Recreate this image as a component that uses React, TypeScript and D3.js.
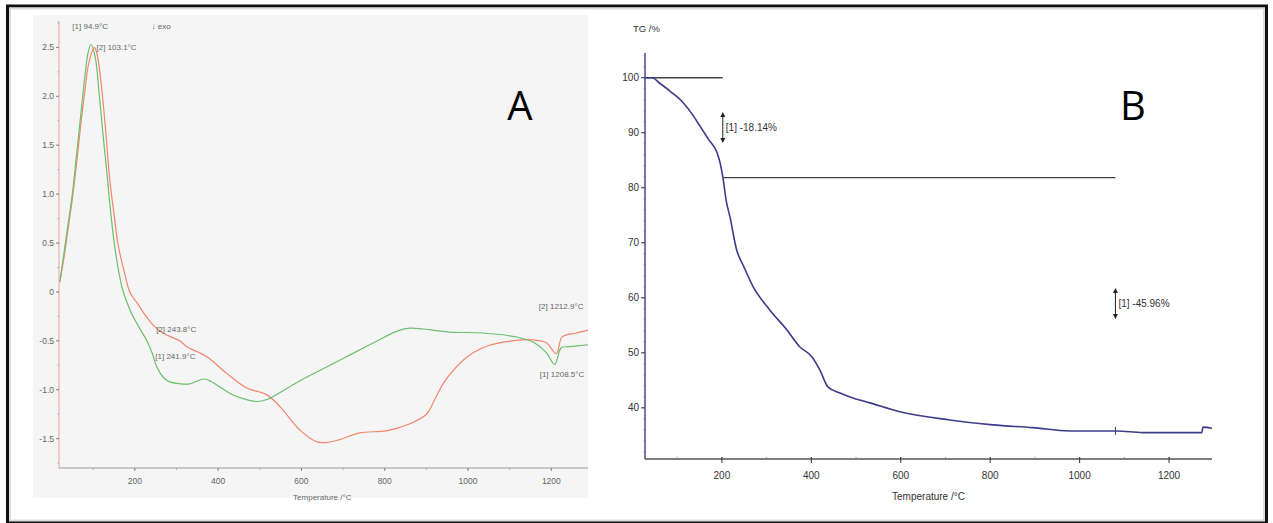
import React from "react";
import * as d3 from "d3";

// ---------- Panel A (DSC) data ----------
const greenT = [20, 30, 40, 50, 60, 70, 80, 88, 95, 105, 115, 125, 133, 140, 150, 160, 171, 190, 210, 229, 242, 253, 270, 284, 310, 332, 350, 368, 385, 404, 430, 452, 493, 517, 560, 600, 650, 700, 750, 800, 830, 860, 955, 1035, 1116, 1155, 1188, 1208, 1224, 1243, 1288];
const greenV = [0.1, 0.4, 0.7, 1.0, 1.4, 1.8, 2.2, 2.45, 2.53, 2.4, 2.0, 1.55, 1.22, 0.9, 0.52, 0.24, 0.02, -0.2, -0.36, -0.5, -0.63, -0.77, -0.88, -0.92, -0.94, -0.94, -0.91, -0.89, -0.92, -0.97, -1.04, -1.08, -1.12, -1.1, -1.0, -0.9, -0.79, -0.68, -0.57, -0.46, -0.4, -0.37, -0.41, -0.42, -0.46, -0.51, -0.62, -0.74, -0.57, -0.56, -0.54];
const orangeT = [20, 30, 40, 50, 60, 70, 80, 90, 103, 110, 120, 130, 140, 150, 160, 175, 188, 210, 229, 244, 267, 308, 325, 372, 420, 468, 516, 548, 596, 636, 660, 692, 740, 804, 859, 900, 920, 940, 965, 996, 1035, 1075, 1155, 1188, 1212, 1226, 1260, 1288];
const orangeV = [0.1, 0.35, 0.65, 0.95, 1.3, 1.7, 2.05, 2.35, 2.5, 2.42, 2.1, 1.65, 1.14, 0.8, 0.48, 0.2, 0.0, -0.14, -0.26, -0.34, -0.42, -0.5, -0.56, -0.66, -0.83, -0.98, -1.05, -1.17, -1.41, -1.53, -1.54, -1.51, -1.44, -1.42, -1.35, -1.25, -1.1, -0.94, -0.8, -0.67, -0.57, -0.52, -0.49, -0.52, -0.63, -0.46, -0.42, -0.39];
const aYTicks = [2.5, 2.0, 1.5, 1.0, 0.5, 0, -0.5, -1.0, -1.5];
const aYLabels = ["2.5", "2.0", "1.5", "1.0", "0.5", "0", "-0.5", "-1.0", "-1.5"];
const aXTicks = [200, 400, 600, 800, 1000, 1200];

// ---------- Panel B (TG) data ----------
const tgT = [30, 44, 61, 85, 113, 135, 151, 170, 189, 196, 202, 210, 218, 233, 247, 270, 307, 345, 374, 401, 419, 437, 464, 493, 531, 598, 709, 806, 895, 978, 1083, 1141, 1273, 1276, 1296];
const tgV = [100, 100, 99.0, 97.5, 95.5, 93.2, 91.2, 88.8, 86.4, 84.5, 82.0, 77.5, 74.7, 68.7, 66.0, 62.0, 57.8, 54.2, 51.1, 49.3, 46.9, 43.8, 42.7, 41.8, 40.9, 39.3, 37.8, 36.9, 36.4, 35.8, 35.8, 35.5, 35.5, 36.5, 36.3];
const bYTicks = [100, 90, 80, 70, 60, 50, 40];
const bXTicks = [200, 400, 600, 800, 1000, 1200];

export default function App() {
  const xA = d3.scaleLinear().domain([18, 1288]).range([59, 588]);
  const yA = d3.scaleLinear().domain([-1.8, 2.77]).range([468, 21]);
  const xB = d3.scaleLinear().domain([28, 1296]).range([645, 1212]);
  const yB = d3.scaleLinear().domain([30.7, 104.5]).range([459, 53]);

  const lineA = d3
    .line<[number, number]>()
    .x((d) => xA(d[0]))
    .y((d) => yA(d[1]))
    .curve(d3.curveCatmullRom.alpha(0.5));
  const green = lineA(greenT.map((t, i) => [t, greenV[i]] as [number, number])) || "";
  const orange = lineA(orangeT.map((t, i) => [t, orangeV[i]] as [number, number])) || "";

  const lineB = d3
    .line<[number, number]>()
    .x((d) => xB(d[0]))
    .y((d) => yB(d[1]))
    .curve(d3.curveMonotoneX);
  const tg = lineB(tgT.map((t, i) => [t, tgV[i]] as [number, number])) || "";

  const aMinorY = d3.range(-1.75, 2.76, 0.25);
  const aMinorX = d3.range(100, 1288, 100);
  const bMinorX = d3.range(100, 1296, 100);
  const bMinorY = d3.range(32, 104.5, 2);

  const fontA = "'Liberation Sans', Arial, sans-serif";
  const lblA = { fontFamily: fontA, fontSize: 8.5, fill: "#666" } as const;
  const lblB = { fontFamily: fontA, fontSize: 10, fill: "#333" } as const;

  const arrow = (x: number, y1: number, y2: number) => (
    <g stroke="#222" fill="#222">
      <line x1={x} x2={x} y1={y1 + 3} y2={y2 - 3} strokeWidth={1} />
      <path d={`M${x - 2.5},${y1 + 5} L${x},${y1} L${x + 2.5},${y1 + 5} Z`} stroke="none" />
      <path d={`M${x - 2.5},${y2 - 5} L${x},${y2} L${x + 2.5},${y2 - 5} Z`} stroke="none" />
    </g>
  );

  return (
    <svg width={1273} height={523} style={{ position: "absolute", left: 0, top: 0, background: "#fff" }}>
      {/* frame */}
      <rect x={7.5} y={6} width={1259} height={516} fill="#fff" stroke="#111" strokeWidth={3} />
      <rect x={10} y={8.5} width={1254} height={512} fill="none" stroke="#ddd" strokeWidth={2} />

      {/* ===== Panel A ===== */}
      <rect x={33} y={15} width={555} height={483} fill="#f5f5f5" />
      <path d={orange} fill="none" stroke="#f2866a" strokeWidth={1.2} />
      <path d={green} fill="none" stroke="#6cbf6c" strokeWidth={1.2} />
      <line x1={xA(18)} x2={xA(18)} y1={yA(2.77)} y2={yA(-1.8)} stroke="#e8a0a0" strokeWidth={1} />
      <line x1={xA(18)} x2={xA(1288)} y1={yA(-1.8)} y2={yA(-1.8)} stroke="#999" strokeWidth={1} />
      {aMinorY.map((v) => (
        <line key={"amy" + v} x1={xA(18) - 1.5} x2={xA(18)} y1={yA(v)} y2={yA(v)} stroke="#aaa" />
      ))}
      {aYTicks.map((v, i) => (
        <g key={"ay" + v}>
          <line x1={xA(18) - 3} x2={xA(18)} y1={yA(v)} y2={yA(v)} stroke="#888" />
          <text x={xA(18) - 5} y={yA(v) + 3} textAnchor="end" {...lblA}>
            {aYLabels[i]}
          </text>
        </g>
      ))}
      {aMinorX.map((t) => (
        <line key={"amx" + t} x1={xA(t)} x2={xA(t)} y1={yA(-1.8)} y2={yA(-1.8) + 2} stroke="#aaa" />
      ))}
      {aXTicks.map((t) => (
        <g key={"ax" + t}>
          <line x1={xA(t)} x2={xA(t)} y1={yA(-1.8)} y2={yA(-1.8) + 3} stroke="#888" />
          <text x={xA(t)} y={yA(-1.8) + 16} textAnchor="middle" {...lblA}>
            {t}
          </text>
        </g>
      ))}
      <text x={xA(650)} y={500} textAnchor="middle" {...lblA} fontSize={8}>
        Temperature /°C
      </text>
      <text x={xA(50)} y={29} {...lblA} fontSize={8}>[1] 94.9°C</text>
      <text x={xA(240)} y={29} {...lblA} fontSize={8}>↓ exo</text>
      <text x={xA(108)} y={50} {...lblA} fontSize={8}>[2] 103.1°C</text>
      <text x={xA(244) + 3} y={yA(-0.34) + 7} {...lblA} fontSize={8}>[2] 243.8°C</text>
      <text x={xA(242) + 3} y={yA(-0.64) + 4} {...lblA} fontSize={8}>[1] 241.9°C</text>
      <text x={xA(1170)} y={309} {...lblA} fontSize={8}>[2] 1212.9°C</text>
      <text x={xA(1172)} y={377} {...lblA} fontSize={8}>[1] 1208.5°C</text>
      <text x={520} y={120} textAnchor="middle" fontFamily="'Open Sans', 'Liberation Sans', sans-serif" fontSize={40} fill="#000">
        A
      </text>

      {/* ===== Panel B ===== */}
      <line x1={xB(28)} x2={xB(202)} y1={yB(100)} y2={yB(100)} stroke="#444" strokeWidth={1.3} />
      <line x1={xB(202)} x2={xB(1080)} y1={yB(81.86)} y2={yB(81.86)} stroke="#444" strokeWidth={1.3} />
      <path d={tg} fill="none" stroke="#3c3c8a" strokeWidth={1.6} />
      <line x1={xB(1080)} x2={xB(1080)} y1={yB(35.8) - 4} y2={yB(35.8) + 4} stroke="#3c3c8a" strokeWidth={1} />
      <line x1={xB(28)} x2={xB(28)} y1={yB(104.5)} y2={yB(30.7)} stroke="#3c3c8a" strokeWidth={1.4} />
      <line x1={xB(28)} x2={xB(1296)} y1={yB(30.7)} y2={yB(30.7)} stroke="#555" strokeWidth={1.4} />
      {bMinorY.map((v) => (
        <line key={"bmy" + v} x1={xB(28) - 1.5} x2={xB(28)} y1={yB(v)} y2={yB(v)} stroke="#7a7ab0" />
      ))}
      {bYTicks.map((v) => (
        <g key={"by" + v}>
          <line x1={xB(28) - 4} x2={xB(28)} y1={yB(v)} y2={yB(v)} stroke="#333" />
          <text x={xB(28) - 6} y={yB(v) + 3.5} textAnchor="end" {...lblB}>
            {v}
          </text>
        </g>
      ))}
      {bMinorX.map((t) => (
        <line key={"bmx" + t} x1={xB(t)} x2={xB(t)} y1={yB(30.7) - 2} y2={yB(30.7)} stroke="#888" />
      ))}
      {bXTicks.map((t) => (
        <g key={"bx" + t}>
          <line x1={xB(t)} x2={xB(t)} y1={yB(30.7) - 2} y2={yB(30.7) + 4} stroke="#333" />
          <text x={xB(t)} y={yB(30.7) + 20} textAnchor="middle" {...lblB}>
            {t}
          </text>
        </g>
      ))}
      <text x={xB(28) - 12} y={32} {...lblB} fontSize={9.5}>TG /%</text>
      <text x={(xB(28) + xB(1296)) / 2} y={500} textAnchor="middle" {...lblB}>
        Temperature /°C
      </text>
      {arrow(xB(202), 112, 143)}
      <text x={xB(202) + 3} y={131} {...lblB}>[1] -18.14%</text>
      {arrow(xB(1080), 288, 319)}
      <text x={xB(1080) + 3} y={307} {...lblB}>[1] -45.96%</text>
      <text x={1133} y={120} textAnchor="middle" fontFamily="'Open Sans', 'Liberation Sans', sans-serif" fontSize={40} fill="#000">
        B
      </text>
    </svg>
  );
}
